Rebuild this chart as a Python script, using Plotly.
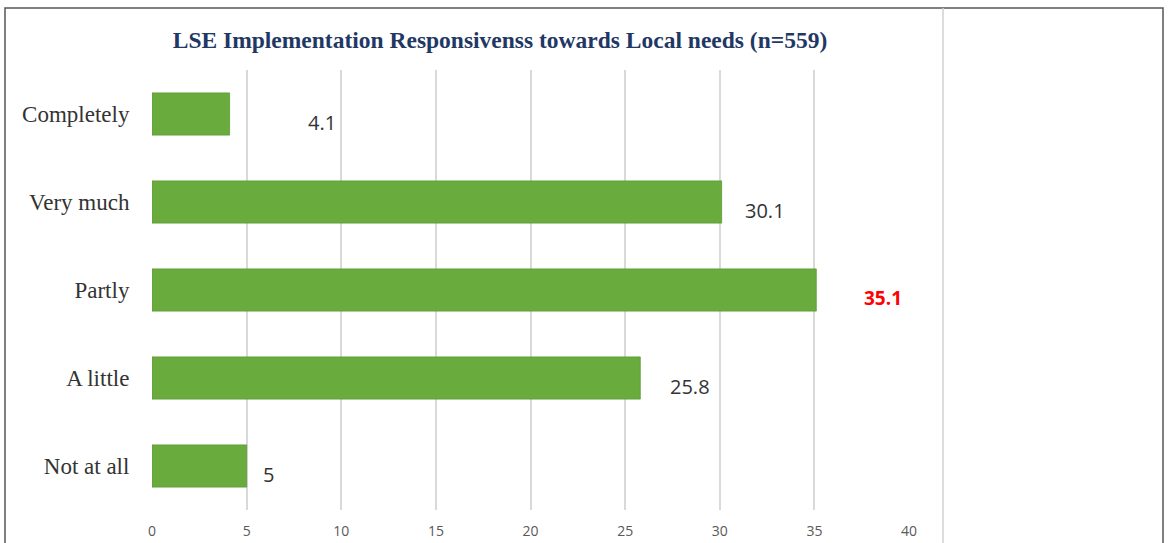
import plotly.graph_objects as go

categories = ["Completely", "Very much", "Partly", "A little", "Not at all"]
values = [4.1, 30.1, 35.1, 25.8, 5]
value_labels = ["4.1", "30.1", "35.1", "25.8", "5"]
x_ticks = [0, 5, 10, 15, 20, 25, 30, 35, 40]

# styling for the value labels (pixel shift from bar end, colour, weight)
label_shift = [76, 21, 46, 28, 14]
label_color = ["#333333", "#333333", "#ff0000", "#333333", "#333333"]
label_bold = [False, False, True, False, False]

fig = go.Figure()
fig.add_trace(go.Bar(
    y=categories, x=values, orientation="h",
    marker=dict(color="#6aab3d", line=dict(color="#5b9a33", width=0.8)),
    width=0.48, hoverinfo="skip",
))

for c, v, t, s, col, b in zip(categories, values, value_labels, label_shift, label_color, label_bold):
    fig.add_annotation(
        x=v, y=c, xref="x", yref="y", text=f"<b>{t}</b>" if b else t,
        showarrow=False, xanchor="left", yanchor="middle", xshift=s, yshift=-8,
        font=dict(family="Open Sans, Noto Sans, sans-serif", size=20 if not b else 19, color=col),
        bgcolor="white", borderpad=1,
    )

fig.update_layout(
    width=1168, height=543,
    margin=dict(l=152, r=259, t=70, b=33, autoexpand=False),
    paper_bgcolor="white", plot_bgcolor="white",
    showlegend=False,
    title=dict(
        text="<b>LSE Implementation Responsivenss towards Local needs (n=559)</b>",
        xref="container", x=500 / 1168, xanchor="center",
        yref="container", y=1 - 40 / 543, yanchor="middle",
        font=dict(family="Liberation Serif, Times New Roman, serif", size=23.5, color="#1f3864"),
    ),
    xaxis=dict(
        range=[0, 40], tickvals=x_ticks, showgrid=True, gridcolor="#d9d9d9", gridwidth=1.5,
        zeroline=False, showline=False, ticks="outside", ticklen=8, tickcolor="white",
        automargin=False,
        tickfont=dict(family="Open Sans, Noto Sans, sans-serif", size=14, color="#595959"),
    ),
    yaxis=dict(
        categoryorder="array", categoryarray=categories[::-1],
        showgrid=False, zeroline=False, showline=False,
        ticks="outside", ticklen=17, tickcolor="white", automargin=False,
        tickfont=dict(family="Liberation Serif, Times New Roman, serif", size=23, color="#333333"),
    ),
    shapes=[
        dict(type="rect", xref="paper", yref="paper",
             x0=-147 / 757, x1=(1163 - 152) / 757, y0=-0.2, y1=1 + 62 / 440,
             line=dict(color="#555555", width=1.5), layer="below"),
        dict(type="line", xref="paper", yref="paper",
             x0=(943 - 152) / 757, x1=(943 - 152) / 757, y0=-0.2, y1=1 + 62 / 440,
             line=dict(color="#d0d0d0", width=1.5), layer="below"),
    ],
)

fig.write_html("out.html")
